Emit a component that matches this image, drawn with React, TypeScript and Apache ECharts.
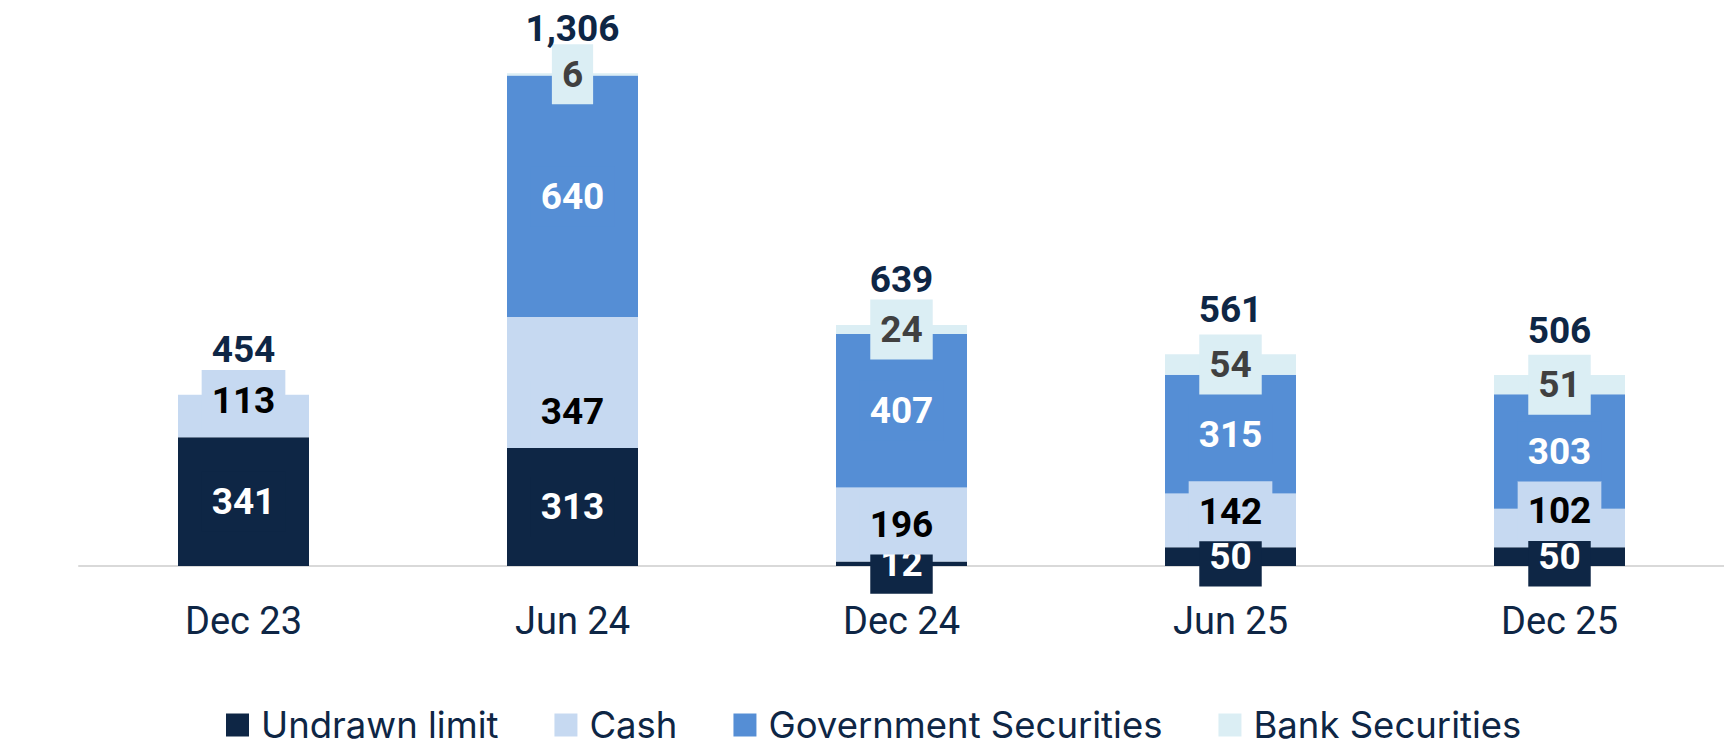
import React, { useEffect, useRef } from "react";
import * as echarts from "echarts";

const categories = ["Dec 23", "Jun 24", "Dec 24", "Jun 25", "Dec 25"];
const undrawnLimit = [341, 313, 12, 50, 50];
const cash = [113, 347, 196, 142, 102];
const governmentSecurities = [0, 640, 407, 315, 303];
const bankSecurities = [0, 6, 24, 54, 51];

// label nudges (px) for the cash labels, as placed in the source
const cashLabelNudge = [-16, 29, 0, -9, -17];

const NAVY = "#0e2645";
const CASH = "#c6d9f1";
const GOV = "#558ed5";
const BANK = "#dbeef4";
const FONT = "Roboto, 'Noto Sans', sans-serif";
const LEGEND_FONT = "Inter, Roboto, sans-serif";

function buildData(values: number[], nudges?: number[]) {
  return values.map((v, i) => {
    if (v === 0) return { value: v, label: { show: false } };
    if (nudges && nudges[i]) return { value: v, label: { offset: [0, nudges[i]] } };
    return v;
  });
}

function segLabel(color: string, bg: string) {
  return {
    show: true,
    position: "inside",
    color,
    backgroundColor: bg,
    fontFamily: FONT,
    fontWeight: "bold",
    fontSize: 37,
    lineHeight: 40,
    padding: [10, 10, 10, 10],
  };
}

export default function App() {
  const ref = useRef<HTMLDivElement>(null);
  useEffect(() => {
    document.body.style.margin = "0";
    if (!ref.current) return;
    const chart = echarts.init(ref.current, undefined, { renderer: "svg" });
    const totals = categories.map(
      (_, i) => undrawnLimit[i] + cash[i] + governmentSecurities[i] + bankSecurities[i]
    );
    chart.setOption({
      animation: false,
      grid: { left: 79, right: 0, top: 0, bottom: 188, containLabel: false },
      legend: {
        data: ["Undrawn limit", "Cash", "Government Securities", "Bank Securities"],
        left: 221,
        top: 700,
        icon: "rect",
        itemWidth: 23,
        itemHeight: 23,
        itemGap: 56,
        textStyle: {
          color: NAVY,
          fontFamily: LEGEND_FONT,
          fontSize: 36.5,
          lineHeight: 40,
          padding: [0, 0, 0, 7],
        },
      },
      xAxis: {
        type: "category",
        data: categories,
        axisLine: { show: true, lineStyle: { color: "#d9d9d9", width: 2 } },
        axisTick: { show: false },
        axisLabel: { color: NAVY, fontFamily: FONT, fontSize: 38, margin: 36 },
      },
      yAxis: { type: "value", min: 0, max: 1500, show: false, splitLine: { show: false } },
      series: [
        {
          name: "Undrawn limit",
          type: "bar",
          stack: "total",
          barWidth: 131,
          itemStyle: { color: NAVY },
          label: segLabel("#ffffff", NAVY),
          data: buildData(undrawnLimit),
        },
        {
          name: "Cash",
          type: "bar",
          stack: "total",
          barWidth: 131,
          itemStyle: { color: CASH },
          label: segLabel("#000000", CASH),
          data: buildData(cash, cashLabelNudge),
        },
        {
          name: "Government Securities",
          type: "bar",
          stack: "total",
          barWidth: 131,
          itemStyle: { color: GOV },
          label: segLabel("#ffffff", GOV),
          data: buildData(governmentSecurities),
        },
        {
          name: "Bank Securities",
          type: "bar",
          stack: "total",
          barWidth: 131,
          itemStyle: { color: BANK },
          label: segLabel("#404040", BANK),
          data: buildData(bankSecurities),
        },
        {
          name: "Total",
          type: "scatter",
          symbolSize: 1,
          itemStyle: { color: "rgba(0,0,0,0)", opacity: 1 },
          z: 10,
          label: {
            show: true,
            position: "inside",
            offset: [0, -45],
            color: NAVY,
            opacity: 1,
            fontFamily: FONT,
            fontWeight: "bold",
            fontSize: 37,
            formatter: (p: any) => Number(p.value).toLocaleString("en-US"),
          },
          data: totals,
        },
      ],
    });
    return () => chart.dispose();
  }, []);
  return <div ref={ref} style={{ width: 1724, height: 754 }} />;
}
